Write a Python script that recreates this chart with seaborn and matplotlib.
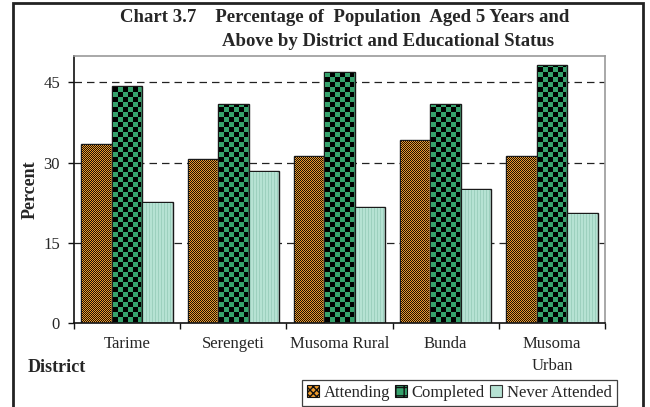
import numpy as np
import pandas as pd
import matplotlib
matplotlib.use("Agg")
import matplotlib.pyplot as plt
from matplotlib.patches import Patch, Rectangle
import seaborn as sns

districts = ["Tarime", "Serengeti", "Musoma Rural", "Bunda", "Musoma\nUrban"]
attending = [33.4, 30.6, 31.3, 34.3, 31.3]
completed = [44.4, 41.0, 47.0, 41.0, 48.2]
never_attended = [22.7, 28.4, 21.7, 25.0, 20.6]
statuses = ["Attending", "Completed", "Never Attended"]
y_ticks = [0, 15, 30, 45]

df = pd.DataFrame({
    "District": districts * 3,
    "Status": np.repeat(statuses, len(districts)),
    "Percent": attending + completed + never_attended,
})

sns.set_theme(style="white")
plt.rcParams["font.family"] = ["Liberation Serif", "DejaVu Serif"]

ORANGE = "#EE9A2C"
GREEN = "#36A26C"
MINT = "#B6E2D3"
MINT_LINE = "#9DD0BE"

W, H = 650, 407
fig = plt.figure(figsize=(W / 100, H / 100), dpi=100)
ax = fig.add_axes([74 / W, 1 - 323 / H, (605 - 74) / W, (323 - 55.7) / H])

sns.barplot(data=df, x="District", y="Percent", hue="Status",
            palette=[ORANGE, GREEN, MINT], width=0.86, gap=0,
            edgecolor="#1a1a1a", linewidth=1.0, legend=False, ax=ax)

ax.set_ylim(0, 50)
ax.set_xlim(-0.5, len(districts) - 0.5)
ax.set_yticks(y_ticks)
ax.set_yticklabels([str(t) for t in y_ticks], fontsize=12)
ax.set_xlabel("")
ax.set_ylabel("")

# dashed horizontal gridlines
for t in y_ticks[1:]:
    ax.axhline(t, color="#222222", lw=0.9, ls=(0, (6, 4)), zorder=0.5)

# spines
for s in ["left", "bottom"]:
    ax.spines[s].set_color("#111111")
    ax.spines[s].set_linewidth(1.2)
for s in ["top", "right"]:
    ax.spines[s].set_color("#9a9a9a")
    ax.spines[s].set_linewidth(1.2)

ax.tick_params(axis="y", direction="out", length=4, width=1, color="#111111", pad=6, left=True)
ax.set_xticks(range(len(districts)))
ax.set_xticklabels(districts, fontsize=12, linespacing=1.5)
ax.set_xticks(np.arange(-0.5, len(districts), 1.0), minor=True)
ax.tick_params(axis="x", which="major", length=0, pad=9)
ax.tick_params(axis="x", which="minor", direction="out", length=4, width=1,
               color="#111111", bottom=True)


def add_texture(patch, kind):
    """Lay a pixel pattern inside a bar, leaving its outline visible."""
    x0, y0 = patch.get_x(), patch.get_y()
    w, h = patch.get_width(), patch.get_height()
    p0 = np.round(ax.transData.transform((x0, y0))).astype(int)
    p1 = np.round(ax.transData.transform((x0 + w, y0 + h))).astype(int)
    nx = max(p1[0] - p0[0] - 2, 1)
    ny = max(p1[1] - p0[1] - 2, 1)
    jj, ii = np.meshgrid(np.arange(nx), np.arange(ny))
    img = np.zeros((ny, nx, 3))
    if kind == "fine":
        dark = ((ii + jj) % 2) == 0
        img[:] = matplotlib.colors.to_rgb(ORANGE)
        img[dark] = (0.1, 0.06, 0.02)
    elif kind == "checker":
        dark = ((ii // 5 + jj // 5) % 2) == 0
        img[:] = matplotlib.colors.to_rgb(GREEN)
        img[dark] = (0.0, 0.0, 0.0)
    else:
        img[:] = matplotlib.colors.to_rgb(MINT)
        img[(jj % 3) == 0] = matplotlib.colors.to_rgb(MINT_LINE)
    fig.figimage(img, xo=p0[0] + 1, yo=p0[1] + 1, origin="lower", zorder=1)


for container, kind in zip(ax.containers, ["fine", "checker", "stripe"]):
    for bar in container:
        add_texture(bar, kind)

# axis titles
fig.text(30 / W, 1 - 190 / H, "Percent", rotation=90, fontsize=13,
         fontweight="bold", ha="center", va="center")
fig.text(28 / W, 1 - 368 / H, "District", fontsize=13, fontweight="bold",
         ha="left", va="center")

# chart title
fig.text(345 / W, 1 - 17 / H,
         "Chart 3.7    Percentage of  Population  Aged 5 Years and",
         fontsize=13.5, fontweight="bold", ha="center", va="center")
fig.text(388 / W, 1 - 42 / H, "Above by District and Educational Status",
         fontsize=13.5, fontweight="bold", ha="center", va="center")

# legend
handles = [
    Patch(facecolor=ORANGE, edgecolor="#111111", hatch="xxxxx", lw=0.8),
    Patch(facecolor=GREEN, edgecolor="#111111", hatch="++", lw=0.8),
    Patch(facecolor=MINT, edgecolor="#333333", lw=0.8),
]
leg = fig.legend(handles, statuses, loc="upper left",
                 bbox_to_anchor=(302 / W, 1 - 380 / H), ncol=3, fontsize=12,
                 frameon=True, fancybox=False, handlelength=0.7, handleheight=0.7,
                 handletextpad=0.3, columnspacing=0.3, borderpad=0.3,
                 borderaxespad=0)
leg.get_frame().set_edgecolor("#111111")
leg.get_frame().set_linewidth(0.9)
leg.set_zorder(5)

# outer border around the whole chart
fig.add_artist(Rectangle((13 / W, -0.02), (643 - 13) / W, 1.02 - 3 / H,
                         transform=fig.transFigure, fill=False,
                         edgecolor="#222222", lw=2, zorder=6))

fig.savefig("out.png", dpi=100)
